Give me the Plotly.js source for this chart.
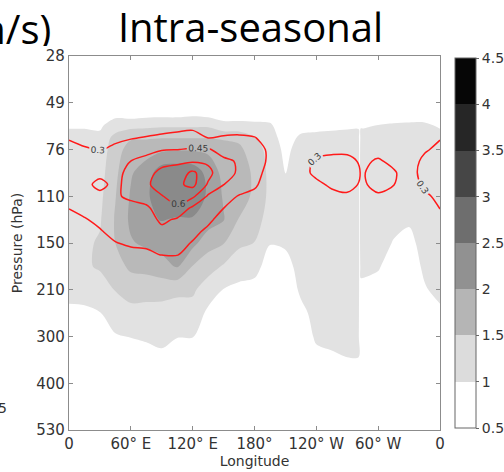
<!DOCTYPE html>
<html>
<head>
<meta charset="utf-8">
<script src="https://cdn.plot.ly/plotly-3.0.1.min.js"></script>
<style>
  html, body { margin: 0; padding: 0; background: #ffffff; }
  #chart { width: 504px; height: 472px; }
</style>
</head>
<body>
<div id="chart"></div>
<script>
// Longitude grid of the shaded field (degrees east, 0..360);
// the 281-283 columns carry the narrow data gap near 282
const shadeLongitudes = [0, 15, 30, 45, 60, 75, 90, 105, 120, 135, 150, 165, 180,
                         195, 210, 225, 240, 255, 270, 281, 282, 283, 285,
                         300, 315, 330, 345, 360];

// Longitude grid of the line-contour field
const lineLongitudes = [0, 15, 30, 45, 60, 75, 90, 105, 120, 135, 150, 165, 180,
                        195, 210, 225, 240, 255, 270, 285, 300, 315, 330, 345, 360];

// Longitude tick labels
const lonTickVals = [0, 60, 120, 180, 240, 300, 360];
const lonTickText = ['0', '60° E', '120° E', '180°', '120° W', '60° W', '0'];

// Pressure levels (hPa), drawn on evenly spaced level positions
const pressureLabels = ['28', '49', '76', '110', '150', '210', '300', '400', '530'];
const levelIndex = [0, 1, 2, 3, 4, 5, 6, 7, 8];

// Shaded field: vertical positions of the rows (level index)
const shadeLevels = [0, 1, 1.25, 1.5, 1.75, 2, 2.5, 3, 3.5, 4, 4.5, 5, 5.5, 6, 6.5, 7, 8];

// Shaded field, one profile per longitude (top to bottom)
const shadeByLon = [
  [0.2, 0.6, 0.8, 0.97, 1.1, 1.2, 1.3, 1.35, 1.35, 1.3, 1.2, 1.15, 0.9, 0.6, 0.45, 0.35, 0.2],
  [0.2, 0.6, 0.8, 0.97, 1.1, 1.2, 1.3, 1.35, 1.38, 1.42, 1.44, 1.2, 0.9, 0.6, 0.45, 0.35, 0.2],
  [0.2, 0.6, 0.78, 0.95, 1.08, 1.2, 1.3, 1.38, 1.45, 1.55, 1.55, 1.3, 0.98, 0.65, 0.45, 0.35, 0.2],
  [0.2, 0.7, 0.9, 1.2, 1.7, 1.8, 1.9, 1.98, 2.05, 2.0, 1.8, 1.52, 1.25, 0.96, 0.6, 0.4, 0.2],
  [0.2, 0.72, 0.8, 1.35, 1.95, 2.2, 2.45, 2.55, 2.6, 2.45, 2.1, 1.7, 1.35, 1.02, 0.65, 0.4, 0.2],
  [0.2, 0.75, 0.85, 1.4, 1.95, 2.3, 2.75, 2.9, 2.92, 2.6, 2.15, 1.72, 1.3, 1.1, 0.7, 0.45, 0.2],
  [0.2, 0.75, 0.85, 1.45, 1.98, 2.4, 3.3, 3.35, 3.02, 2.7, 2.3, 1.7, 1.3, 1.15, 0.85, 0.5, 0.2],
  [0.2, 0.75, 0.85, 1.45, 1.98, 2.45, 3.35, 3.4, 2.95, 2.8, 2.55, 1.6, 1.3, 1.02, 0.7, 0.45, 0.2],
  [0.2, 0.78, 0.92, 1.45, 1.98, 2.45, 3.3, 3.35, 2.95, 2.65, 1.98, 1.58, 1.3, 1.02, 0.7, 0.45, 0.2],
  [0.2, 0.75, 0.85, 1.45, 1.98, 2.4, 2.85, 2.92, 2.75, 2.2, 1.7, 1.25, 0.9, 0.6, 0.45, 0.35, 0.2],
  [0.2, 0.7, 0.8, 1.15, 1.95, 2.2, 2.35, 2.45, 2.53, 2.02, 1.45, 0.98, 0.7, 0.5, 0.4, 0.3, 0.2],
  [0.2, 0.7, 0.8, 1.15, 1.9, 2.1, 2.15, 2.12, 1.98, 1.6, 1.2, 0.9, 0.65, 0.5, 0.4, 0.3, 0.2],
  [0.2, 0.7, 0.8, 1.12, 1.55, 1.75, 1.95, 1.95, 1.75, 1.49, 1.15, 0.85, 0.6, 0.45, 0.4, 0.3, 0.2],
  [0.2, 0.7, 0.8, 1.08, 1.2, 1.3, 1.35, 1.35, 1.25, 1.02, 0.8, 0.6, 0.45, 0.35, 0.3, 0.25, 0.2],
  [0.2, 0.5, 0.6, 0.7, 0.8, 0.88, 0.98, 1.15, 1.25, 1.08, 0.8, 0.6, 0.45, 0.35, 0.3, 0.25, 0.2],
  [0.2, 0.6, 0.7, 0.85, 1.08, 1.2, 1.3, 1.35, 1.35, 1.3, 1.2, 1.1, 0.85, 0.6, 0.45, 0.35, 0.2],
  [0.2, 0.6, 0.75, 0.9, 1.1, 1.2, 1.3, 1.35, 1.35, 1.35, 1.3, 1.25, 1.18, 1.1, 0.8, 0.5, 0.2],
  [0.2, 0.6, 0.75, 0.92, 1.12, 1.2, 1.3, 1.35, 1.35, 1.35, 1.3, 1.25, 1.2, 1.12, 0.92, 0.55, 0.2],
  [0.2, 0.6, 0.78, 0.95, 1.12, 1.2, 1.3, 1.35, 1.35, 1.35, 1.3, 1.28, 1.22, 1.15, 0.98, 0.6, 0.2],
  [0.2, 0.6, 0.8, 0.96, 1.12, 1.2, 1.3, 1.35, 1.35, 1.35, 1.3, 1.28, 1.22, 1.15, 0.98, 0.6, 0.2],
  [0.2, 0.5, 0.6, 0.7, 0.75, 0.8, 0.8, 0.8, 0.8, 0.8, 0.8, 0.7, 0.6, 0.5, 0.4, 0.3, 0.2],
  [0.2, 0.6, 0.8, 0.97, 1.12, 1.2, 1.3, 1.35, 1.35, 1.3, 1.1, 0.9, 0.7, 0.55, 0.45, 0.35, 0.2],
  [0.2, 0.6, 0.8, 0.97, 1.12, 1.2, 1.3, 1.35, 1.35, 1.3, 1.1, 0.9, 0.7, 0.55, 0.45, 0.35, 0.2],
  [0.2, 0.65, 0.82, 1.02, 1.15, 1.22, 1.3, 1.32, 1.3, 1.2, 1.05, 0.8, 0.6, 0.45, 0.35, 0.3, 0.2],
  [0.2, 0.7, 0.85, 1.05, 1.15, 1.22, 1.3, 1.28, 1.15, 0.97, 0.75, 0.6, 0.45, 0.35, 0.3, 0.25, 0.2],
  [0.2, 0.7, 0.85, 1.07, 1.15, 1.22, 1.28, 1.22, 1.07, 0.85, 0.7, 0.55, 0.45, 0.35, 0.3, 0.25, 0.2],
  [0.2, 0.7, 0.85, 1.07, 1.15, 1.22, 1.3, 1.35, 1.3, 1.2, 1.1, 0.95, 0.7, 0.5, 0.4, 0.3, 0.2],
  [0.2, 0.6, 0.8, 0.97, 1.1, 1.2, 1.3, 1.35, 1.35, 1.3, 1.2, 1.15, 0.9, 0.6, 0.45, 0.35, 0.2]
];

// Line-contour field: vertical positions of the rows (level index)
const lineLevels = [1, 1.25, 1.5, 1.75, 2, 2.25, 2.5, 2.75, 3, 3.25, 3.5, 3.75, 4, 4.25, 4.5];

// Line-contour field, one profile per longitude (top to bottom)
const lineByLon = [
  [0.05, 0.12, 0.2, 0.29, 0.34, 0.37, 0.38, 0.37, 0.34, 0.305, 0.25, 0.18, 0.12, 0.06, 0.02],
  [0.05, 0.1, 0.17, 0.24, 0.32, 0.36, 0.39, 0.4, 0.38, 0.34, 0.29, 0.22, 0.14, 0.07, 0.02],
  [0.04, 0.08, 0.14, 0.21, 0.29, 0.36, 0.4, 0.5, 0.4, 0.37, 0.33, 0.29, 0.2, 0.09, 0.03],
  [0.06, 0.12, 0.19, 0.27, 0.33, 0.37, 0.4, 0.4, 0.43, 0.4, 0.37, 0.34, 0.295, 0.2, 0.08],
  [0.06, 0.13, 0.21, 0.29, 0.38, 0.451, 0.5, 0.53, 0.48, 0.4, 0.37, 0.34, 0.32, 0.26, 0.12],
  [0.07, 0.14, 0.22, 0.31, 0.41, 0.49, 0.55, 0.57, 0.53, 0.42, 0.38, 0.35, 0.33, 0.27, 0.12],
  [0.07, 0.15, 0.24, 0.33, 0.44, 0.55, 0.64, 0.68, 0.59, 0.54, 0.48, 0.41, 0.35, 0.305, 0.15],
  [0.08, 0.16, 0.25, 0.35, 0.448, 0.57, 0.67, 0.72, 0.68, 0.57, 0.43, 0.39, 0.35, 0.31, 0.18],
  [0.08, 0.16, 0.26, 0.37, 0.46, 0.58, 0.78, 0.79, 0.63, 0.42, 0.39, 0.34, 0.29, 0.2, 0.1],
  [0.07, 0.14, 0.22, 0.298, 0.46, 0.57, 0.65, 0.58, 0.43, 0.38, 0.33, 0.27, 0.18, 0.1, 0.05],
  [0.06, 0.13, 0.21, 0.32, 0.41, 0.47, 0.48, 0.452, 0.36, 0.302, 0.24, 0.17, 0.1, 0.05, 0.02],
  [0.05, 0.12, 0.21, 0.33, 0.4, 0.44, 0.44, 0.38, 0.29, 0.22, 0.15, 0.1, 0.05, 0.02, 0],
  [0.04, 0.1, 0.19, 0.31, 0.37, 0.38, 0.36, 0.33, 0.25, 0.18, 0.12, 0.07, 0.03, 0.01, 0],
  [0.03, 0.07, 0.14, 0.22, 0.27, 0.27, 0.24, 0.2, 0.15, 0.1, 0.06, 0.03, 0.01, 0, 0],
  [0.02, 0.05, 0.08, 0.12, 0.15, 0.16, 0.15, 0.13, 0.1, 0.07, 0.04, 0.02, 0, 0, 0],
  [0.02, 0.05, 0.09, 0.14, 0.18, 0.22, 0.24, 0.22, 0.18, 0.12, 0.07, 0.03, 0.01, 0, 0],
  [0.02, 0.05, 0.1, 0.16, 0.24, 0.33, 0.34, 0.26, 0.2, 0.13, 0.08, 0.04, 0.02, 0, 0],
  [0.02, 0.05, 0.1, 0.17, 0.26, 0.35, 0.38, 0.33, 0.25, 0.17, 0.1, 0.05, 0.02, 0, 0],
  [0.02, 0.05, 0.1, 0.17, 0.26, 0.35, 0.4, 0.36, 0.27, 0.18, 0.1, 0.05, 0.02, 0, 0],
  [0.02, 0.05, 0.09, 0.15, 0.22, 0.27, 0.28, 0.27, 0.22, 0.15, 0.09, 0.04, 0.02, 0, 0],
  [0.02, 0.05, 0.1, 0.16, 0.24, 0.32, 0.4, 0.37, 0.27, 0.18, 0.1, 0.05, 0.02, 0, 0],
  [0.02, 0.04, 0.08, 0.13, 0.19, 0.26, 0.32, 0.305, 0.23, 0.15, 0.08, 0.04, 0.02, 0, 0],
  [0.03, 0.06, 0.1, 0.15, 0.2, 0.22, 0.22, 0.21, 0.18, 0.13, 0.08, 0.04, 0.02, 0, 0],
  [0.04, 0.09, 0.15, 0.22, 0.28, 0.34, 0.37, 0.33, 0.27, 0.21, 0.15, 0.09, 0.04, 0.01, 0],
  [0.05, 0.12, 0.2, 0.29, 0.34, 0.37, 0.38, 0.37, 0.34, 0.305, 0.25, 0.18, 0.12, 0.06, 0.02]
];

// Colour bar levels and the grey of each band between them
const barTicks = [0.5, 1, 1.5, 2, 2.5, 3, 3.5, 4, 4.5];
const barColors = ['#ffffff', '#dcdcdc', '#b5b5b5', '#919191',
                   '#6e6e6e', '#464646', '#262626', '#060606'];
// The same bands as they appear inside the plot frame (softer greys)
const fillColors = ['#ffffff', '#e2e2e2', '#cecece', '#b9b9b9',
                    '#a2a2a2', '#8a8a8a', '#5a5a5a', '#2a2a2a'];

// Plotly wants z as rows (one per y value)
const toRows = cols => cols[0].map((_, i) => cols.map(c => c[i]));

// Step colourscale: each band is one flat grey
function stepScale(colors) {
  const n = colors.length;
  const out = [];
  colors.forEach((c, k) => {
    out.push([k / n, c]);
    out.push([(k + 1) / n, c]);
  });
  return out;
}

const axisGrey = '#8c8c8c';
const tickFont = { family: 'DejaVu Sans', size: 15, color: '#333333' };
const titleFont = { family: 'DejaVu Sans', size: 14, color: '#333333' };

// Carries the colour bar only; it sits beyond the longitude range
const scaleKey = {
  type: 'heatmap',
  z: [barTicks],
  x0: 1000, dx: 1, y0: 0, dy: 1,
  zmin: 0.5, zmax: 4.5,
  colorscale: stepScale(barColors),
  hoverinfo: 'skip',
  showscale: true,
  colorbar: {
    x: 1.0404, xanchor: 'left', xpad: 0,
    y: 0.5, yanchor: 'middle', ypad: 0,
    len: 370, lenmode: 'pixels',
    thickness: 21, thicknessmode: 'pixels',
    outlinewidth: 1, outlinecolor: '#666666',
    tickmode: 'array', tickvals: barTicks,
    ticks: 'outside', ticklen: 3, tickcolor: '#666666',
    tickfont: { family: 'DejaVu Sans', size: 14, color: '#333333' }
  }
};

const shading = {
  type: 'contour',
  x: shadeLongitudes,
  y: shadeLevels,
  z: toRows(shadeByLon),
  autocontour: false,
  contours: { start: 0.5, end: 4.5, size: 0.5, coloring: 'fill', showlines: false },
  line: { width: 0, smoothing: 0.9 },
  colorscale: stepScale(fillColors),
  showscale: false,
  hoverinfo: 'skip'
};

const lines = {
  type: 'contour',
  x: lineLongitudes,
  y: lineLevels,
  z: toRows(lineByLon),
  autocontour: false,
  contours: {
    start: 0.3, end: 0.75, size: 0.15, coloring: 'lines',
    showlabels: true,
    labelfont: { family: 'DejaVu Sans', size: 9, color: '#3a3a3a' }
  },
  colorscale: [[0, '#ff1a1a'], [1, '#ff1a1a']],
  line: { width: 1.5, smoothing: 0.85 },
  showscale: false,
  hoverinfo: 'skip'
};

const layout = {
  width: 504,
  height: 472,
  margin: { l: 69, r: 64, t: 56, b: 42, autoexpand: false },
  paper_bgcolor: '#ffffff',
  plot_bgcolor: '#ffffff',
  font: { family: 'DejaVu Sans', color: '#333333' },
  showlegend: false,
  title: {
    text: 'Intra-seasonal',
    font: { family: 'Open Sans', size: 40, color: '#000000' },
    xref: 'container', x: 0.497, xanchor: 'center',
    yref: 'container', y: 0.9417, yanchor: 'middle'
  },
  xaxis: {
    range: [0, 360],
    tickmode: 'array', tickvals: lonTickVals, ticktext: lonTickText,
    ticks: 'inside', ticklen: 4, tickcolor: axisGrey, tickwidth: 1,
    showline: true, linecolor: axisGrey, linewidth: 1.2, mirror: 'ticks',
    showgrid: false, zeroline: false,
    tickfont: tickFont,
    title: { text: 'Longitude', font: titleFont, standoff: 3 }
  },
  yaxis: {
    range: [8, 0],
    tickmode: 'array', tickvals: levelIndex, ticktext: pressureLabels,
    ticks: 'inside', ticklen: 4, tickcolor: axisGrey, tickwidth: 1,
    showline: true, linecolor: axisGrey, linewidth: 1.2, mirror: 'ticks',
    showgrid: false, zeroline: false,
    tickfont: tickFont,
    title: { text: 'Pressure (hPa)', font: titleFont, standoff: 10 }
  },
  annotations: [
    {
      text: '(m/s)', xref: 'paper', yref: 'paper',
      x: -0.0458, xanchor: 'right', y: 1.0762, yanchor: 'middle',
      height: 36, borderpad: 0,
      showarrow: false, font: { family: 'Open Sans', size: 40, color: '#000000' }
    },
    {
      text: '5', xref: 'paper', yref: 'paper',
      x: -0.1604, xanchor: 'right', y: 0.0588, yanchor: 'middle',
      showarrow: false, font: { family: 'DejaVu Sans', size: 14, color: '#333333' }
    }
  ]
};

Plotly.newPlot('chart', [scaleKey, shading, lines], layout, { staticPlot: true, displayModeBar: false });
</script>
</body>
</html>
